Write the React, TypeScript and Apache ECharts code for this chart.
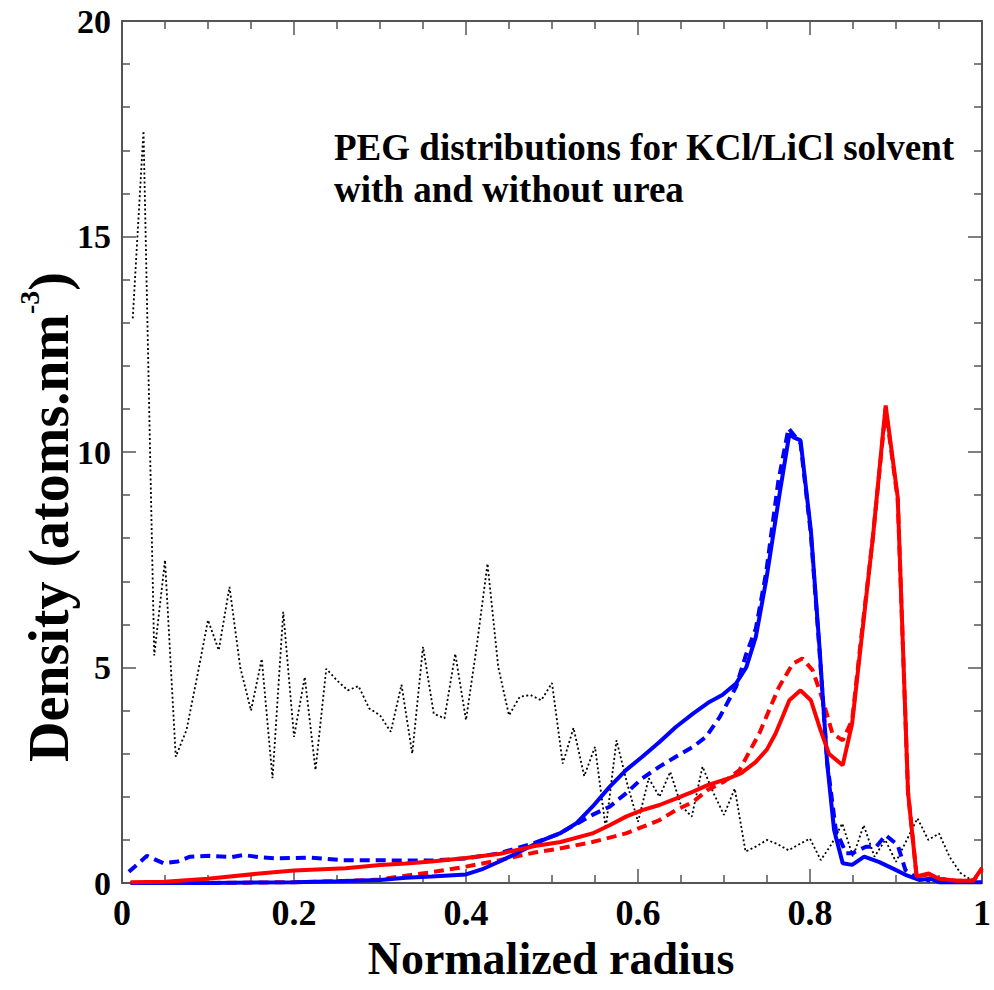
import React, { useEffect, useRef } from "react";
import * as echarts from "echarts";

// ---- data ----
const blackX = [0.0125,0.025,0.0375,0.05,0.0625,0.075,0.0875,0.1,0.1125,0.125,0.1375,0.15,0.1625,0.175,0.1875,0.2,0.2125,0.225,0.2375,0.25,0.2625,0.275,0.2875,0.3,0.3125,0.325,0.3375,0.35,0.3625,0.375,0.3875,0.4,0.4125,0.425,0.4375,0.45,0.4625,0.475,0.4875,0.5,0.5125,0.525,0.5375,0.55,0.5625,0.575,0.5875,0.6,0.6125,0.625,0.6375,0.65,0.6625,0.675,0.6875,0.7,0.7125,0.725,0.7375,0.75,0.7625,0.775,0.7875,0.8,0.8125,0.825,0.8375,0.85,0.8625,0.875,0.8875,0.9,0.9125,0.925,0.9375,0.95,0.9625,0.975,0.9875,1.0];
const blackY = [13.1,17.45,5.28,7.49,2.93,3.55,4.8,6.1,5.4,6.87,5.0,4.0,5.2,2.43,6.29,3.39,4.78,2.62,4.97,4.7,4.47,4.57,4.05,3.89,3.51,4.6,3.0,5.48,3.93,3.82,5.32,3.78,5.5,7.41,5.01,3.89,4.32,4.36,4.24,4.64,2.77,3.6,2.48,3.16,1.27,3.31,2.3,1.42,2.43,2.0,2.58,1.8,1.54,2.7,2.1,1.58,2.19,0.73,0.85,1.0,0.9,0.76,0.9,1.03,0.53,0.9,1.38,0.61,1.34,0.61,1.0,0.49,1.0,1.5,1.0,1.15,0.6,0.23,0.07,0.3];

const blueSolid: [number, number][] = [[0.01,0],[0.1,0],[0.2,0.02],[0.25,0.04],[0.3,0.07],[0.33,0.12],[0.36,0.15],[0.4,0.2],[0.42,0.33],[0.439,0.5],[0.46,0.7],[0.478,0.88],[0.49,1.0],[0.509,1.15],[0.528,1.38],[0.547,1.77],[0.567,2.23],[0.586,2.62],[0.605,2.93],[0.625,3.27],[0.644,3.62],[0.664,3.93],[0.683,4.2],[0.698,4.36],[0.714,4.63],[0.726,5.01],[0.737,5.71],[0.749,7.02],[0.764,8.95],[0.776,10.42],[0.781,10.34],[0.789,10.27],[0.801,8.18],[0.811,5.48],[0.82,2.77],[0.828,1.23],[0.838,0.46],[0.849,0.42],[0.863,0.61],[0.88,0.49],[0.896,0.34],[0.911,0.19],[0.927,0.07],[0.94,0.1],[0.95,0.02],[1.0,0.02]];

const blueDashed: [number, number][] = [[0.008,0.26],[0.029,0.63],[0.048,0.46],[0.065,0.5],[0.079,0.61],[0.102,0.63],[0.127,0.6],[0.141,0.65],[0.16,0.6],[0.18,0.57],[0.218,0.59],[0.257,0.53],[0.296,0.53],[0.327,0.52],[0.36,0.52],[0.4,0.57],[0.439,0.69],[0.478,0.92],[0.509,1.15],[0.547,1.58],[0.567,1.77],[0.586,2.08],[0.605,2.43],[0.625,2.7],[0.644,2.93],[0.664,3.16],[0.679,3.39],[0.695,3.85],[0.714,4.55],[0.726,5.32],[0.737,5.9],[0.749,7.2],[0.763,9.3],[0.775,10.55],[0.781,10.4],[0.789,10.2],[0.801,8.1],[0.811,5.4],[0.82,2.8],[0.83,1.23],[0.842,0.69],[0.849,0.69],[0.865,0.84],[0.877,0.84],[0.888,1.11],[0.902,0.88],[0.911,0.3],[0.925,0.1],[0.94,0.05]];

const redSolid: [number, number][] = [[0.01,0.02],[0.05,0.03],[0.1,0.1],[0.16,0.22],[0.2,0.29],[0.26,0.34],[0.3,0.42],[0.33,0.45],[0.36,0.5],[0.4,0.58],[0.44,0.68],[0.48,0.86],[0.51,0.95],[0.547,1.15],[0.567,1.34],[0.586,1.54],[0.605,1.69],[0.625,1.81],[0.644,1.96],[0.664,2.12],[0.681,2.27],[0.706,2.43],[0.72,2.55],[0.737,2.81],[0.75,3.1],[0.76,3.47],[0.768,3.85],[0.776,4.24],[0.789,4.47],[0.801,4.24],[0.811,3.62],[0.822,3.0],[0.838,2.73],[0.849,3.7],[0.859,5.5],[0.873,8.0],[0.888,11.08],[0.902,8.95],[0.914,2.1],[0.924,0.15],[0.938,0.22],[0.95,0.1],[0.97,0.05],[0.99,0.05],[1.0,0.35]];

const redDashed: [number, number][] = [[0.01,0],[0.1,0],[0.2,0.02],[0.25,0.04],[0.3,0.08],[0.323,0.15],[0.36,0.25],[0.4,0.38],[0.439,0.53],[0.478,0.7],[0.509,0.8],[0.547,0.95],[0.586,1.15],[0.605,1.3],[0.625,1.46],[0.644,1.69],[0.664,1.88],[0.681,2.16],[0.7,2.35],[0.718,2.62],[0.741,3.47],[0.764,4.55],[0.78,5.09],[0.791,5.21],[0.803,4.94],[0.815,4.24],[0.826,3.47],[0.838,3.31],[0.849,3.78],[0.859,5.6],[0.873,8.0],[0.888,11.0],[0.902,8.9],[0.914,2.1],[0.924,0.15],[0.938,0.2],[0.95,0.1],[0.97,0.05],[0.99,0.05],[1.0,0.3]];

const annotationLines = ["PEG distributions for KCl/LiCl solvent", "with and without urea"];
const xTitle = "Normalized radius";

const FONT = "'Liberation Serif', 'Times New Roman', serif";
const AX = "#555";

export default function App() {
  const ref = useRef<HTMLDivElement>(null);
  useEffect(() => {
    if (!ref.current) return;
    const chart = echarts.init(ref.current, null, { renderer: "svg" });
    const mkX = (pos: "bottom" | "top", labels: boolean) => ({
      type: "value", min: 0, max: 1, interval: 0.2, position: pos,
      axisLine: { show: true, onZero: false, lineStyle: { color: AX, width: 2 } },
      axisTick: { show: true, inside: true, length: 14, lineStyle: { color: AX, width: 1.5 } },
      minorTick: { show: true, splitNumber: 4, length: 8, lineStyle: { color: AX, width: 1.5 } },
      splitLine: { show: false },
      axisLabel: { show: labels, fontFamily: FONT, fontWeight: "bold", fontSize: 36, color: "#000", margin: 12 },
    });
    const mkY = (pos: "left" | "right", labels: boolean) => ({
      type: "value", min: 0, max: 20, interval: 5, position: pos,
      axisLine: { show: true, onZero: false, lineStyle: { color: AX, width: 2 } },
      axisTick: { show: true, inside: true, length: 14, lineStyle: { color: AX, width: 1.5 } },
      minorTick: { show: true, splitNumber: 5, length: 8, lineStyle: { color: AX, width: 1.5 } },
      splitLine: { show: false },
      axisLabel: { show: labels, fontFamily: FONT, fontWeight: "bold", fontSize: 34, color: "#000", margin: 11 },
    });
    chart.setOption({
      animation: false,
      backgroundColor: "#fff",
      grid: { left: 122, right: 12, top: 21, bottom: 107, containLabel: false },
      xAxis: [mkX("bottom", true), mkX("top", false)],
      yAxis: [mkY("left", true), mkY("right", false)],
      graphic: [
        {
          type: "text", left: 334, top: 126,
          style: { text: annotationLines.join("\n"), font: `bold 37px ${FONT}`, fill: "#000", lineHeight: 42 },
        },
        {
          type: "text", x: 551, y: 958,
          style: { text: xTitle, font: `bold 46px ${FONT}`, fill: "#000", textAlign: "center", textVerticalAlign: "middle" },
        },
        {
          type: "text", x: 46, y: 517, rotation: Math.PI / 2,
          style: {
            text: "{a|Density (atoms.nm}{s|-3}{a|)}",
            textAlign: "center", textVerticalAlign: "middle",
            rich: {
              a: { font: `bold 56px ${FONT}`, fill: "#000", lineHeight: 62, verticalAlign: "bottom" },
              s: { font: `bold 28px ${FONT}`, fill: "#000", lineHeight: 62, verticalAlign: "top" },
            },
          },
        },
      ],
      series: [
        {
          type: "line", name: "black", data: blackX.map((x, i) => [x, blackY[i]]), showSymbol: false, symbol: "none",
          lineStyle: { color: "#000", width: 1.8, type: [2, 2.5] }, z: 1,
        },
        {
          type: "line", name: "blueDashed", data: blueDashed, showSymbol: false, symbol: "none",
          lineStyle: { color: "#0000ff", width: 4, type: [10, 6] }, z: 2,
        },
        {
          type: "line", name: "redDashed", data: redDashed, showSymbol: false, symbol: "none",
          lineStyle: { color: "#ff0000", width: 4, type: [10, 6] }, z: 3,
        },
        {
          type: "line", name: "blueSolid", data: blueSolid, showSymbol: false, symbol: "none",
          lineStyle: { color: "#0000ff", width: 4 }, z: 4,
        },
        {
          type: "line", name: "redSolid", data: redSolid, showSymbol: false, symbol: "none",
          lineStyle: { color: "#ff0000", width: 4 }, z: 5,
        },
      ],
    });
    return () => chart.dispose();
  }, []);
  return <div ref={ref} style={{ position: "fixed", left: 0, top: 0, width: 994, height: 990 }} />;
}
